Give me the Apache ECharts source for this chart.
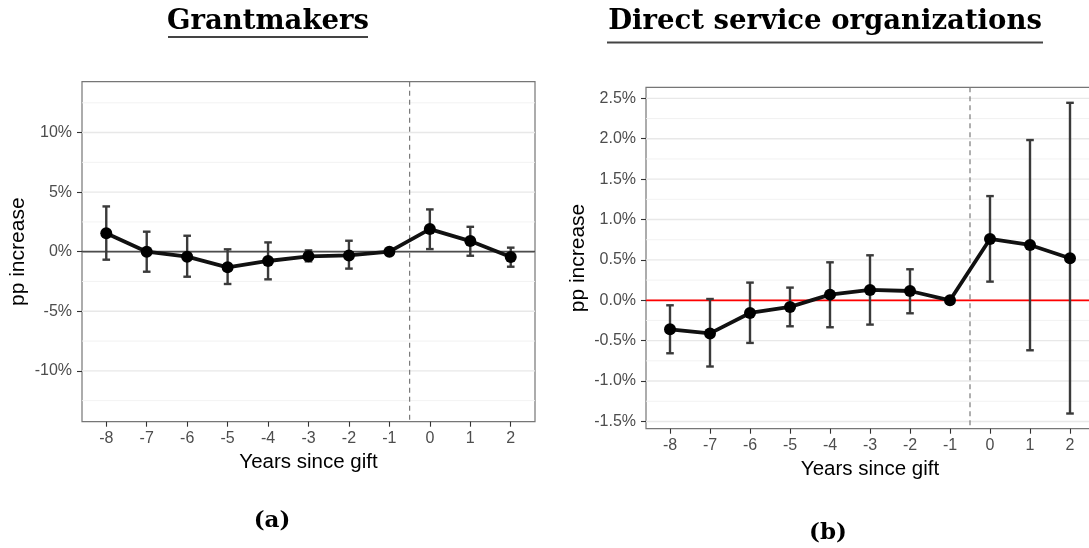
<!DOCTYPE html>
<html>
<head>
<meta charset="utf-8">
<script src="https://cdn.jsdelivr.net/npm/echarts@6/dist/echarts.min.js"></script>
<style>
html,body{margin:0;padding:0;background:#fff;}
#chart{width:1089px;height:548px;}
</style>
</head>
<body>
<div id="chart"></div>
<script>
// ---------- data ----------
const years = [-8, -7, -6, -5, -4, -3, -2, -1, 0, 1, 2];
const yearLabels = ['-8', '-7', '-6', '-5', '-4', '-3', '-2', '-1', '0', '1', '2'];

// Panel (a): Grantmakers (percent)
const grantEst = [1.55, 0.0, -0.42, -1.31, -0.78, -0.39, -0.31, 0.0, 1.90, 0.89, -0.45];
const grantLo  = [-0.67, -1.68, -2.10, -2.71, -2.32, -0.81, -1.42, 0.0, 0.22, -0.34, -1.26];
const grantHi  = [3.80, 1.68, 1.34, 0.20, 0.78, 0.11, 0.92, 0.0, 3.55, 2.09, 0.34];

// Panel (b): Direct service organizations (percent)
const directEst = [-0.36, -0.41, -0.157, -0.082, 0.07, 0.128, 0.115, 0.0, 0.759, 0.685, 0.52];
const directLo  = [-0.656, -0.82, -0.528, -0.322, -0.334, -0.301, -0.161, 0.0, 0.231, -0.619, -1.402];
const directHi  = [-0.062, 0.016, 0.219, 0.157, 0.47, 0.557, 0.384, 0.0, 1.29, 1.984, 2.445];

// tick values / labels
const leftYTicks  = [-10, -5, 0, 5, 10];
const leftYLabels = ['-10%', '-5%', '0%', '5%', '10%'];
const leftYMinor  = [-12.5, -7.5, -2.5, 2.5, 7.5, 12.5];
const rightYTicks  = [-1.5, -1.0, -0.5, 0.0, 0.5, 1.0, 1.5, 2.0, 2.5];
const rightYLabels = ['-1.5%', '-1.0%', '-0.5%', '0.0%', '0.5%', '1.0%', '1.5%', '2.0%', '2.5%'];
const rightYMinor  = [-1.25, -0.75, -0.25, 0.25, 0.75, 1.25, 1.75, 2.25];

const titles = ['Grantmakers', 'Direct service organizations'];
const subLabels = ['(a)', '(b)'];
const xTitle = 'Years since gift';
const yTitle = 'pp increase';
const gapLine = -0.5;
const xMin = -8.6, xMax = 2.6;

// ---------- helpers ----------
const SANS = '"Liberation Sans", Arial, Helvetica, sans-serif';
const SERIF = '"DejaVu Serif", "Liberation Serif", serif';

function labelFor(ticks, labels) {
  return function (v) {
    for (let i = 0; i < ticks.length; i++) {
      if (Math.abs(ticks[i] - v) < 1e-6) return labels[i];
    }
    return '';
  };
}

function xAxisCfg(gridIndex, nameGap) {
  return {
    gridIndex: gridIndex, type: 'value', min: xMin, max: xMax, position: 'bottom',
    axisLine: { show: false, onZero: false },
    axisTick: { show: true, customValues: years, length: 5, lineStyle: { color: '#333', width: 1.1, type: 'solid' } },
    axisLabel: { customValues: years, formatter: labelFor(years, yearLabels), color: '#4d4d4d',
      fontSize: 16, fontFamily: SANS, margin: 9 },
    splitLine: { show: false },
    splitArea: { show: false },
    name: xTitle, nameLocation: 'middle', nameGap: nameGap,
    nameTextStyle: { fontSize: 20.5, fontFamily: SANS, color: '#000' }
  };
}

function yAxisCfg(gridIndex, min, max, ticks, labels, nameGap) {
  return {
    gridIndex: gridIndex, type: 'value', min: min, max: max, position: 'left',
    axisLine: { show: false, onZero: false },
    axisTick: { show: true, customValues: ticks, length: 5, lineStyle: { color: '#333', width: 1.1, type: 'solid' } },
    axisLabel: { customValues: ticks, formatter: labelFor(ticks, labels), color: '#4d4d4d',
      fontSize: 16, fontFamily: SANS, margin: 10 },
    splitLine: { show: false },
    splitArea: { show: false },
    name: yTitle, nameLocation: 'middle', nameGap: nameGap,
    nameTextStyle: { fontSize: 21, fontFamily: SANS, color: '#000' }
  };
}

// reference lines (grid lines, zero line, dashed gift line) as a custom series
function refSeries(idx, major, minor, zeroColor) {
  // kind: 0 minor, 1 major, 2 zero line, 3 vertical dashed line
  const data = [];
  minor.forEach(v => data.push([v, 0]));
  major.forEach(v => data.push([v, 1]));
  data.push([0, 2]);
  data.push([gapLine, 3]);
  return {
    type: 'custom', xAxisIndex: idx, yAxisIndex: idx, z: 1, silent: true,
    data: data,
    renderItem: function (params, api) {
      const v = api.value(0), kind = api.value(1);
      const cs = params.coordSys;
      if (kind === 3) {
        const px = api.coord([v, 0])[0];
        return {
          type: 'line',
          shape: { x1: px, y1: cs.y, x2: px, y2: cs.y + cs.height },
          style: { stroke: '#7a7a7a', lineWidth: 1.2, lineDash: [5, 4] }
        };
      }
      const a = api.coord([xMin, v]);
      const b = api.coord([xMax, v]);
      let style;
      if (kind === 0) style = { stroke: '#f0f0f0', lineWidth: 0.9 };
      else if (kind === 1) style = { stroke: '#e8e8e8', lineWidth: 1.4 };
      else style = { stroke: zeroColor, lineWidth: 1.7 };
      return { type: 'line', shape: { x1: a[0], y1: a[1], x2: b[0], y2: b[1] }, style: style };
    }
  };
}

function errSeries(idx, lo, hi) {
  return {
    type: 'custom', xAxisIndex: idx, yAxisIndex: idx, z: 2, silent: true,
    data: years.map((y, i) => [y, lo[i], hi[i]]),
    renderItem: function (params, api) {
      const x = api.value(0);
      const pLo = api.coord([x, api.value(1)]);
      const pHi = api.coord([x, api.value(2)]);
      const hw = 3.8;
      const st = () => ({ stroke: '#3a3a3a', lineWidth: 2.4 });
      return {
        type: 'group',
        children: [
          { type: 'line', shape: { x1: pLo[0], y1: pLo[1], x2: pHi[0], y2: pHi[1] }, style: st() },
          { type: 'line', shape: { x1: pLo[0] - hw, y1: pLo[1], x2: pLo[0] + hw, y2: pLo[1] }, style: st() },
          { type: 'line', shape: { x1: pHi[0] - hw, y1: pHi[1], x2: pHi[0] + hw, y2: pHi[1] }, style: st() }
        ]
      };
    }
  };
}

function lineSeries(idx, est) {
  return {
    type: 'line', xAxisIndex: idx, yAxisIndex: idx, z: 3, silent: true,
    data: years.map((y, i) => [y, est[i]]),
    symbol: 'circle', symbolSize: 12, showSymbol: true,
    itemStyle: { color: '#000', borderWidth: 0 },
    lineStyle: { color: '#111', width: 3.8, type: 'solid' },
    emphasis: { disabled: true }
  };
}

const chart = echarts.init(document.getElementById('chart'), null, { renderer: 'canvas' });

const option = {
  animation: false,
  backgroundColor: '#fff',
  grid: [
    { left: 82, top: 81.7, width: 453, height: 340, show: true, borderColor: '#767676', borderWidth: 1.2,
      backgroundColor: 'transparent', containLabel: false, outerBoundsMode: 'none' },
    { left: 646, top: 87.3, width: 448, height: 341.4, show: true, borderColor: '#767676', borderWidth: 1.2,
      backgroundColor: 'transparent', containLabel: false, outerBoundsMode: 'none' }
  ],
  xAxis: [xAxisCfg(0, 29), xAxisCfg(1, 28)],
  yAxis: [
    yAxisCfg(0, -14.27, 14.27, leftYTicks, leftYLabels, 53),
    yAxisCfg(1, -1.59, 2.637, rightYTicks, rightYLabels, 57)
  ],
  series: [
    refSeries(0, leftYTicks, leftYMinor, '#4d4d4d'),
    refSeries(1, rightYTicks, rightYMinor, '#ff0000'),
    errSeries(0, grantLo, grantHi),
    errSeries(1, directLo, directHi),
    lineSeries(0, grantEst),
    lineSeries(1, directEst)
  ],
  graphic: [
    { type: 'text', x: 268, y: 22, style: { text: titles[0], font: 'bold 27.5px ' + SERIF,
      textAlign: 'center', textVerticalAlign: 'middle', align: 'center', verticalAlign: 'middle', fill: '#000' } },
    { type: 'line', shape: { x1: 168, y1: 37, x2: 368, y2: 37 }, style: { stroke: '#444', lineWidth: 1.8 } },
    { type: 'text', x: 825, y: 22, style: { text: titles[1], font: 'bold 27.5px ' + SERIF,
      textAlign: 'center', textVerticalAlign: 'middle', align: 'center', verticalAlign: 'middle', fill: '#000' } },
    { type: 'line', shape: { x1: 607, y1: 42.5, x2: 1043, y2: 42.5 }, style: { stroke: '#444', lineWidth: 1.8 } },
    { type: 'text', x: 272, y: 521, style: { text: subLabels[0], font: 'bold 23px ' + SERIF,
      textAlign: 'center', textVerticalAlign: 'middle', align: 'center', verticalAlign: 'middle', fill: '#000' } },
    { type: 'text', x: 828, y: 533, style: { text: subLabels[1], font: 'bold 23px ' + SERIF,
      textAlign: 'center', textVerticalAlign: 'middle', align: 'center', verticalAlign: 'middle', fill: '#000' } }
  ]
};

chart.setOption(option);
</script>
</body>
</html>
